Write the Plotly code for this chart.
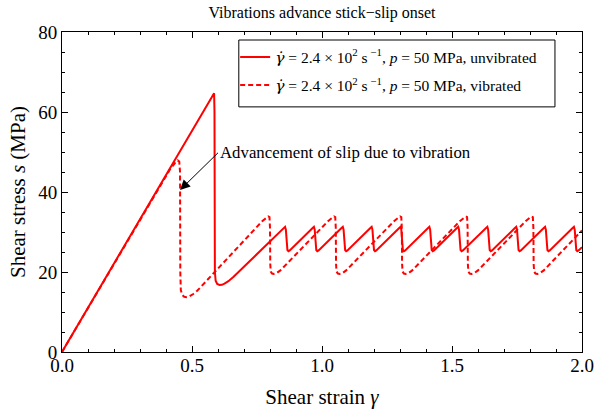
import plotly.graph_objects as go

# Unvibrated response: elastic loading, large slip, then regular stick-slip
strain_unvib = [
    0.0, 0.585, 0.5865, 0.588, 0.591, 0.597, 0.606, 0.615, 0.625, 0.640, 0.660,
    0.853, 0.858, 0.861, 0.864, 0.867, 0.871, 0.876,
    0.964, 0.969, 0.972, 0.975, 0.978, 0.982, 0.987,
    1.075, 1.080, 1.083, 1.086, 1.089, 1.093, 1.098,
    1.186, 1.191, 1.194, 1.197, 1.200, 1.204, 1.209,
    1.297, 1.302, 1.305, 1.308, 1.311, 1.315, 1.320,
    1.408, 1.413, 1.416, 1.419, 1.422, 1.426, 1.431,
    1.519, 1.524, 1.527, 1.530, 1.533, 1.537, 1.542,
    1.631, 1.636, 1.639, 1.642, 1.645, 1.649, 1.654,
    1.742, 1.747, 1.750, 1.753, 1.756, 1.760, 1.765,
    1.853, 1.858, 1.861, 1.864, 1.867, 1.871, 1.876,
    1.964, 1.969, 1.972, 1.975, 1.978, 1.982, 1.987,
    2.0,
]
stress_unvib = [
    0.0, 64.7, 60.0, 20.0, 17.8, 17.0, 16.75, 16.8, 17.1, 17.7, 18.8,
    31.0, 31.3, 30.6, 27.0, 25.5, 25.2, 25.4,
    31.0, 31.3, 30.6, 27.0, 25.5, 25.2, 25.4,
    31.0, 31.3, 30.6, 27.0, 25.5, 25.2, 25.4,
    31.0, 31.3, 30.6, 27.0, 25.5, 25.2, 25.4,
    31.0, 31.3, 30.6, 27.0, 25.5, 25.2, 25.4,
    31.0, 31.3, 30.6, 27.0, 25.5, 25.2, 25.4,
    31.0, 31.3, 30.6, 27.0, 25.5, 25.2, 25.4,
    31.0, 31.3, 30.6, 27.0, 25.5, 25.2, 25.4,
    31.0, 31.3, 30.6, 27.0, 25.5, 25.2, 25.4,
    31.0, 31.3, 30.6, 27.0, 25.5, 25.2, 25.4,
    31.0, 31.3, 30.6, 27.0, 25.5, 25.2, 25.4,
    26.2,
]

# Vibrated response: earlier first slip, larger but less frequent slips
strain_vib = [
    0.0, 0.390, 0.415, 0.435, 0.445, 0.451, 0.454, 0.455, 0.457, 0.462, 0.470,
    0.480, 0.490, 0.505, 0.520,
    0.770, 0.785, 0.793, 0.798, 0.800, 0.801, 0.803, 0.808, 0.815, 0.825, 0.840,
    1.023, 1.038, 1.046, 1.051, 1.053, 1.054, 1.056, 1.061, 1.068, 1.078, 1.093,
    1.277, 1.292, 1.300, 1.305, 1.307, 1.308, 1.310, 1.315, 1.322, 1.332, 1.347,
    1.530, 1.545, 1.553, 1.558, 1.560, 1.561, 1.563, 1.568, 1.575, 1.585, 1.600,
    1.783, 1.798, 1.806, 1.811, 1.813, 1.814, 1.816, 1.821, 1.828, 1.838, 1.853,
    2.0,
]
stress_vib = [
    0.0, 43.1, 45.6, 47.3, 47.9, 47.6, 45.0, 20.0, 15.5, 14.3, 13.8,
    13.7, 13.9, 14.5, 15.3,
    32.7, 33.5, 33.9, 33.7, 31.0, 22.0, 20.1, 19.6, 19.5, 19.7, 20.4,
    32.7, 33.5, 33.9, 33.7, 31.0, 22.0, 20.1, 19.6, 19.5, 19.7, 20.4,
    32.7, 33.5, 33.9, 33.7, 31.0, 22.0, 20.1, 19.6, 19.5, 19.7, 20.4,
    32.7, 33.5, 33.9, 33.7, 31.0, 22.0, 20.1, 19.6, 19.5, 19.7, 20.4,
    32.7, 33.5, 33.9, 33.7, 31.0, 22.0, 20.1, 19.6, 19.5, 19.7, 20.4,
    30.4,
]

x_ticks = [0.0, 0.5, 1.0, 1.5, 2.0]
y_ticks = [0, 20, 40, 60, 80]

GDOT = "<span style=\"font-family:'DejaVu Serif'\"><i>γ̇</i></span>"
label_unvib = GDOT + " = 2.4 × 10<sup>2</sup> s<sup> −1</sup>, <i>p</i> = 50 MPa, unvibrated"
label_vib = GDOT + " = 2.4 × 10<sup>2</sup> s<sup> −1</sup>, <i>p</i> = 50 MPa, vibrated"

SERIF = "Liberation Serif, Times New Roman, serif"
RED = "#ff0000"

fig = go.Figure()
fig.add_trace(go.Scatter(x=strain_unvib, y=stress_unvib, mode="lines",
                         name=label_unvib, legendgroup="unvib",
                         line=dict(color=RED, width=2)))
fig.add_trace(go.Scatter(x=strain_vib, y=stress_vib, mode="lines",
                         name=label_vib, legendgroup="vib",
                         line=dict(color=RED, width=2, dash="5px,3px")))

fig.add_annotation(x=0.454, y=40.5, ax=0.600, ay=49.8, axref="x", ayref="y",
                   text="Advancement of slip due to vibration",
                   showarrow=True, arrowhead=2, arrowsize=2, arrowwidth=1,
                   arrowcolor="black", xanchor="left", yanchor="middle",
                   font=dict(family=SERIF, size=16.8, color="black"))

# Frame around the legend entries
fig.add_shape(type="rect", xref="paper", yref="paper",
              x0=0.340, x1=0.948, y0=0.766, y1=0.975,
              line=dict(color="black", width=1), fillcolor="white", layer="below")

axis_common = dict(
    showline=True, linecolor="black", linewidth=1, mirror="ticks",
    ticks="inside", ticklen=6, tickwidth=1, tickcolor="black",
    showgrid=False, zeroline=False, automargin=False,
    tickfont=dict(family=SERIF, size=19, color="black"),
)

fig.update_xaxes(range=[0, 2], tickvals=x_ticks,
                 ticktext=[f"{v:.1f}" for v in x_ticks], ticklabelstandoff=-4,
                 minor=dict(dtick=0.1, ticks="inside", ticklen=3, tickcolor="black"),
                 title=dict(text="Shear strain <i>γ</i>", standoff=14,
                            font=dict(family=SERIF, size=21, color="black")),
                 **axis_common)
fig.update_yaxes(range=[0, 80], tickvals=y_ticks,
                 minor=dict(dtick=5, ticks="inside", ticklen=3, tickcolor="black"),
                 title=dict(text="Shear stress <i>s</i> (MPa)", standoff=6,
                            font=dict(family=SERIF, size=21, color="black")),
                 **axis_common)

fig.update_layout(
    width=594, height=413,
    margin=dict(l=62, r=12, t=32, b=61),
    plot_bgcolor="white", paper_bgcolor="white",
    title=dict(text="Vibrations advance stick−slip onset",
               x=0.5, xref="paper", xanchor="center",
               y=1 - 12 / 413, yref="container", yanchor="middle",
               font=dict(family=SERIF, size=16, color="black")),
    legend=dict(x=0.333, y=0.974, xanchor="left", yanchor="top",
                borderwidth=0, bgcolor="rgba(0,0,0,0)",
                font=dict(family=SERIF, size=15.5, color="black"),
                tracegroupgap=5),
    showlegend=True,
)

fig.write_html("out.html")
